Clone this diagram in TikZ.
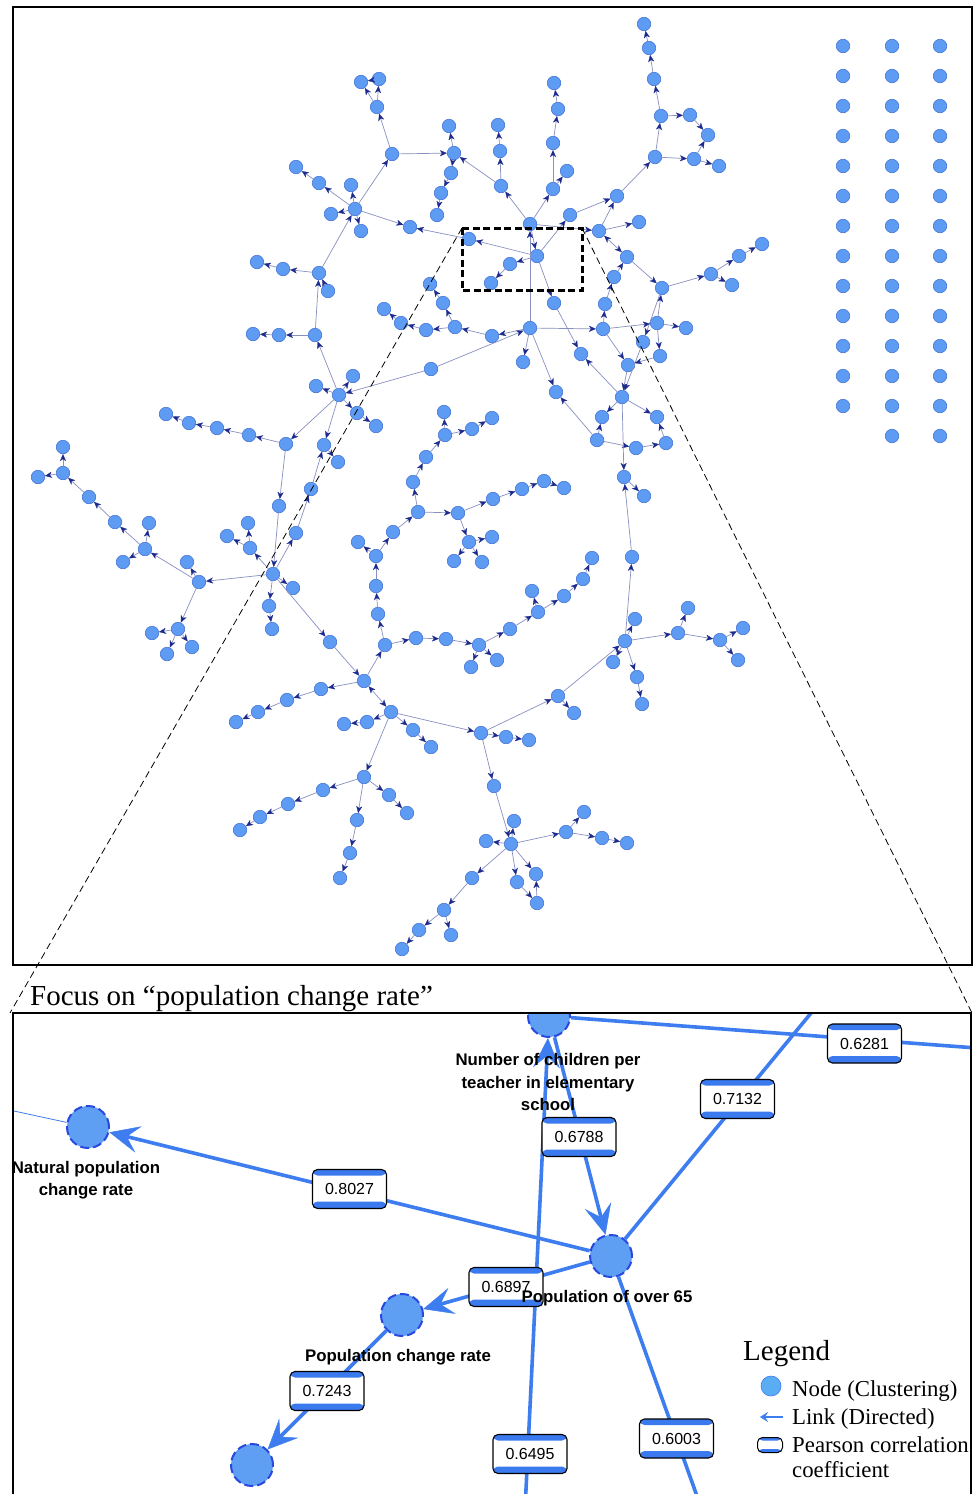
\documentclass[tikz,border=0pt]{standalone}
\usepackage{fontspec}
\setmainfont{Liberation Serif}
\newfontfamily\lsans{Liberation Sans}
\usetikzlibrary{arrows.meta}
\definecolor{dotfill}{HTML}{5E9CF4}
\definecolor{dotline}{HTML}{4674D6}
\definecolor{edgecol}{HTML}{8890C2}
\definecolor{tipnavy}{HTML}{1B2A8C}
\definecolor{bigfill}{HTML}{5E9EF3}
\definecolor{dashblue}{HTML}{2848E0}
\definecolor{linkblue}{HTML}{3D7DF0}
\definecolor{band}{HTML}{3A7AEE}
\definecolor{legfill}{HTML}{5AADF2}
\begin{document}
\begin{tikzpicture}[x=1pt,y=-1pt,
 tdot/.style={circle,inner sep=0pt,minimum size=13.5pt,fill=dotfill,draw=dotline,line width=0.6pt},
 tedge/.style={draw=edgecol,line width=0.7pt,-{Stealth[length=7pt,width=6pt,inset=2pt,color=tipnavy,line width=0.3pt]}},
 bedge/.style={draw=edgecol,line width=0.7pt,{Stealth[length=7pt,width=6pt,inset=2pt,color=tipnavy,line width=0.3pt]}-{Stealth[length=7pt,width=6pt,inset=2pt,color=tipnavy,line width=0.3pt]}},
 big/.style={circle,inner sep=0pt,minimum size=42pt,fill=bigfill,draw=dashblue,line width=2pt,dash pattern=on 9pt off 4pt},
 blink/.style={draw=linkblue,line width=3.6pt,-{Stealth[length=30pt,width=27pt,inset=12pt,line width=0.5pt]}},
 plink/.style={draw=linkblue,line width=3.6pt},
 coef/.style={draw=black,line width=1.1pt,fill=white,rounded corners=5pt,minimum width=74pt,minimum height=39pt,inner sep=0pt,
   font=\lsans\fontsize{16}{16}\selectfont,
   path picture={\fill[band] (path picture bounding box.north west) rectangle ([yshift=-6pt]path picture bounding box.north east);
                 \fill[band] (path picture bounding box.south west) rectangle ([yshift=7pt]path picture bounding box.south east);}},
 coefsmall/.style={draw=black,line width=1pt,fill=white,rounded corners=5pt,minimum width=25pt,minimum height=15pt,inner sep=0pt,
   path picture={\fill[band] (path picture bounding box.north west) rectangle ([yshift=-3pt]path picture bounding box.north east);
                 \fill[band] (path picture bounding box.south west) rectangle ([yshift=3.5pt]path picture bounding box.south east);}},
 lbl/.style={font=\lsans\bfseries\fontsize{16.8}{22.5}\selectfont,align=center,inner sep=0pt},
 legtxt/.style={font=\fontsize{22.8}{28}\selectfont,anchor=base west,inner sep=0pt}
]
\useasboundingbox (0,0) rectangle (974,1494);
\fill[white] (0,0) rectangle (974,1494);

% ---------- top panel: network ----------
\foreach \n/\x/\y in {
a1/361/82, a2/379/79, a3/377/107, a4/392/154, a5/454/153, a6/449/126, a7/451/173, a8/441/193, a9/437/215,
a10/498/125, a11/500/151, a12/501/186, a13/530/224, a14/554/83, a15/558/109, a16/553/143, a17/553/189, a18/567/171,
a19/570/215, a20/617/196, a21/599/231, a22/627/257, a23/614/277, a24/605/304, a25/603/329, a26/537/256, a27/510/264,
a28/491/283, a29/469/239, a30/554/303, a31/530/328, a32/492/336, a33/455/327, a34/426/330, a35/401/323, a36/384/309,
a37/443/303, a38/430/284, a39/410/227, a40/355/209, a41/351/185, a42/361/231, a43/331/214,
b1/296/167, b2/319/183, b3/319/273, b4/328/291, b5/283/269, b6/257/262, b7/315/335, b8/279/335, b9/253/334,
c1/644/24, c2/649/48, c3/654/79, c4/661/116, c5/690/115, c6/708/135, c7/655/157, c8/694/159, c9/719/166, c10/639/222,
c11/662/288, c12/711/274, c13/739/256, c14/762/244, c15/732/285, c16/657/323, c17/686/328, c18/643/342, c19/660/356,
c20/628/365, c21/622/397, c22/602/417, c23/657/417, c24/597/440, c25/636/448, c26/666/443, c27/624/477, c28/644/496, c29/632/557,
d1/581/354, d2/556/392, d3/431/369, d4/339/395, d5/523/362,
e1/316/386, e2/286/444, e3/249/435, e4/217/428, e5/189/423, e6/166/414, e7/324/445, e8/338/462, e9/279/506, e10/311/489,
e11/296/533, e12/273/574, e13/250/548, e14/248/523, e15/227/536, e16/293/588, e17/269/606, e18/272/629, e19/330/642,
e20/199/582, e21/187/562, e22/145/549, e23/149/523, e24/123/562, e25/115/522, e26/89/497, e27/63/473, e28/63/447, e29/38/477,
e30/178/629, e31/152/633, e32/167/654, e33/192/647,
f3/364/681, f4/321/689, f5/287/700, f6/258/712, f7/236/722, f8/391/712, f9/367/722, f10/344/724, f11/413/730, f12/431/747,
f13/364/777, f14/323/790, f15/288/804, f16/260/817, f17/240/830, f18/389/795, f19/407/813, f20/357/820, f21/350/853, f22/340/878,
f23/444/910, f24/419/930, f25/451/935, f26/402/949,
g1/532/591, g2/583/579, g3/564/596, g4/538/612, g5/510/629, g6/479/645, g7/446/639, g8/471/667, g9/497/660, g10/625/641,
g11/635/619, g12/613/662, g13/637/677, g14/642/704, g15/678/633, g16/688/608, g17/720/640, g18/743/628, g19/738/660,
g20/558/696, g21/574/713, g22/481/733, g23/506/737, g24/529/740, g25/494/786, g26/511/844, g27/514/821, g28/486/841,
g29/566/832, g30/584/812, g31/602/838, g32/627/843, g33/472/878, g34/517/882, g35/536/874, g36/537/903,
h1/353/376, h2/357/413, h3/376/426, h4/444/412, h5/492/418, h6/472/429, h7/445/435, h8/426/457, h9/413/482, h10/418/512,
h11/458/513, h12/493/499, h13/522/489, h14/544/481, h15/564/488, h16/469/542, h17/492/537, h18/454/561, h19/482/562,
h20/393/532, h21/376/556, h22/358/542, h23/376/586, h24/378/614, h25/385/645, h26/416/638, h27/592/558}
  \node[tdot] (\n) at (\x,\y) {};

\foreach \x in {843,892,940}
  \foreach \y in {46,76,...,406}
    \node[tdot] (r\x-\y) at (\x,\y) {};
\node[tdot] (r892-436) at (892,436) {};
\node[tdot] (r940-436) at (940,436) {};

\foreach \s/\t in {
a4/a3, a3/a1, a3/a2, a2/a1, a40/a4, a4/a5, a5/a6, a5/a7, a7/a8, a8/a9, a12/a5, a13/a12, a12/a11, a11/a10,
a13/a17, a17/a16, a16/a15, a15/a14, a17/a18, a26/a19, a19/a20, a21/a20, a20/c7, c7/c4, c4/c3, c3/c2, c2/c1,
c4/c5, c5/c6, c7/c8, c8/c6, c8/c9, a21/c10, a23/a22, a24/a23, a25/a24, a22/c11, c11/c12, c12/c13, c13/c14, c12/c15,
c16/c11, c11/c18, c18/c21, a25/c16, c16/c17, c16/c19, c19/c20, a25/c20, c20/c21, c21/c22, c24/c22, c21/c23,
c24/c25, c25/c26, c26/c23, c21/c27, c27/c28, c29/c27, g10/c29, c21/d1, c24/d2, a31/d2, a26/a30, a30/d1,
a13/a26, a31/a13, a13/a21, a26/a29, a26/a27, a27/a28, a29/a39, a40/a39, a40/a43, a40/a41, a40/a42, a40/b2, b2/b1,
b3/a40, b3/b5, b5/b6, b4/b3, b7/b3, b7/b8, b8/b9, d4/b7,
a31/a25, a31/a32, d3/a31, d3/d4, a31/d5, a32/a33, a33/a34, a34/a35, a35/a36, a33/a37, a37/a38,
d4/e1, d4/e2, e2/e3, e3/e4, e4/e5, e5/e6, d4/e7, e7/e8, e2/e9, e9/e12, e12/e11, e11/e10, e10/e7, e12/e13, e13/e14,
e13/e15, e12/e16, e12/e17, e17/e18, e12/e19, e12/e20, e20/e21, e20/e22, e22/e23, e22/e24, e22/e25, e25/e26, e26/e27,
e27/e28, e27/e29, e20/e30, e30/e31, e30/e32, e30/e33,
d4/h1, d4/h2, h2/h3,
e19/f3, f3/h25, h25/h24, h24/h23, h23/h21, h21/h20, h21/h22, h20/h10, h10/h9, h9/h8, h8/h7, h7/h4, h7/h6, h6/h5,
h10/h11, h11/h12, h12/h13, h13/h14, h14/h15, h11/h16, h16/h17, h16/h18, h16/h19, h25/h26, h26/g7, g7/g6, g6/g5,
g5/g4, g4/g3, g3/g2, g4/g1, g2/h27, g6/g8, g6/g9,
f3/f4, f4/f5, f5/f6, f6/f7, f8/f9, f9/f10, f8/f11, f11/f12, f8/f13, f8/g22, f13/f14, f14/f15, f15/f16, f16/f17,
f13/f18, f18/f19, f13/f20, f20/f21, f21/f22,
g22/g20, g20/g10, g20/g21, g10/g11, g10/g12, g10/g13, g13/g14, g10/g15, g15/g16, g15/g17, g17/g18, g17/g19,
g22/g23, g23/g24, g22/g25, g25/g26, g26/g27, g26/g28, g26/g29, g29/g30, g29/g31, g31/g32, g26/g33, g33/f23,
f23/f24, f24/f26, f23/f25, g26/g34, g34/g36, g36/g35, g26/g35}
  \draw[tedge] (\s) -- (\t);
\draw[bedge] (a21) -- (a22);
\draw[bedge] (f3) -- (f8);

% focus box and zoom lines
\coordinate (boxTL) at (462,228);
\coordinate (boxBR) at (582,290);
\coordinate (boxTR) at (582,228);
\coordinate (zoomL) at (10,1013);
\coordinate (zoomR) at (972,1013);
\draw[black,line width=0.8pt,dash pattern=on 7pt off 4pt] (boxTL) -- (zoomL);
\draw[black,line width=0.8pt,dash pattern=on 7pt off 4pt] (boxTR) -- (zoomR);
\draw[black,line width=3pt,dash pattern=on 7pt off 3.5pt] (boxTL) rectangle (boxBR);

% panel frames
\draw[black,line width=2pt] (13,7) rectangle (972,965);
\node[font=\fontsize{29}{30}\selectfont,anchor=base west,inner sep=0pt] (focus) at (30,1005) {Focus on “population change rate”};

% ---------- bottom panel ----------
\begin{scope}
\clip (13,1013) rectangle (971,1494);
\node[big] (nct) at (549,1016) {};
\node[big] (nat) at (88,1127) {};
\node[big] (p65) at (611,1256) {};
\node[big] (pcr) at (402,1315) {};
\node[big] (pbot) at (252,1465) {};
\coordinate (natout) at (0,1108);
\coordinate (out6495) at (525,1510);
\coordinate (out7132) at (830,990);
\coordinate (out6003) at (702,1510);
\coordinate (out6281) at (990,1049);

\draw[draw=linkblue,line width=0.8pt] (nat) -- (natout);
\draw[blink] (out6495) -- (nct);
\draw[blink] (nct) -- (p65);
\draw[blink] (p65) -- (nat);
\draw[blink] (p65) -- (pcr);
\draw[blink] (pcr) -- (pbot);
\draw[plink] (p65) -- (out7132);
\draw[plink] (p65) -- (out6003);
\draw[plink] (nct) -- (out6281);

\node[coef] (k6281) at (864.5,1043.5) {0.6281};
\node[coef] (k7132) at (737.5,1099) {0.7132};
\node[coef] (k6788) at (579,1137) {0.6788};
\node[coef] (k8027) at (349.5,1189) {0.8027};
\node[coef] (k6897) at (506,1287) {0.6897};
\node[coef] (k7243) at (327,1391) {0.7243};
\node[coef] (k6495) at (530,1454) {0.6495};
\node[coef] (k6003) at (676.5,1438.5) {0.6003};

\node[lbl] (tnat) at (86,1180) {Natural population\\change rate};
\node[lbl] (tnct) at (548,1082) {Number of children per\\teacher in elementary\\school};
\node[lbl] (tp65) at (607,1298) {Population of over 65};
\node[lbl] (tpcr) at (398,1357) {Population change rate};
\end{scope}
\draw[black,line width=2pt] (13,1500) -- (13,1013) -- (971,1013) -- (971,1500);

% legend
\node[font=\fontsize{29}{30}\selectfont,anchor=base west,inner sep=0pt] (legend) at (743,1360) {Legend};
\node[circle,minimum size=20pt,inner sep=0pt,fill=legfill,draw=legfill!70!blue,line width=0.6pt] (legnode) at (771,1386) {};
\coordinate (legA) at (783,1417);
\coordinate (legB) at (760,1417);
\draw[draw=linkblue,line width=2.4pt,-{Stealth[length=8pt,width=10pt,inset=3pt,line width=0.3pt]}] (legA) -- (legB);
\node[coefsmall] (legbox) at (770,1445) {};
\node[legtxt] (lt1) at (792,1396) {Node (Clustering)};
\node[legtxt] (lt2) at (792,1424) {Link (Directed)};
\node[legtxt] (lt3) at (792,1452) {Pearson correlation};
\node[legtxt] (lt4) at (792,1477) {coefficient};
\end{tikzpicture}
\end{document}
